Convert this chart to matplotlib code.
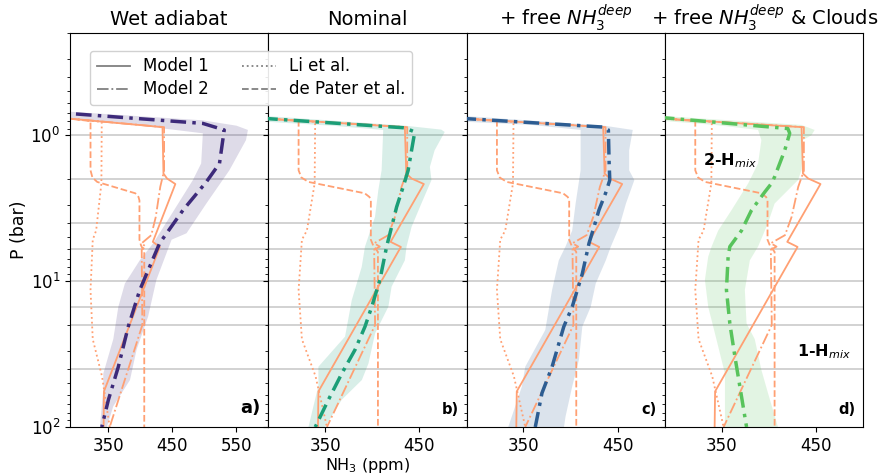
import numpy as np
import matplotlib
matplotlib.use("Agg")
import matplotlib.pyplot as plt

# reference profiles (ppm, bar), same in every panel
model1_ppm = [250, 290, 434.5, 435.6, 436, 441.6, 454.6, 419.4, 430.3, 343, 342.5]
model1_p = [0.745, 0.77, 0.88, 1.48, 1.83, 1.98, 2.16, 5.38, 5.83, 57, 100]

model2_ppm = [250, 290, 437, 437, 431, 424, 417, 402, 408, 402, 403, 352]
model2_p = [0.745, 0.77, 0.88, 1.75, 2.26, 3.63, 4.84, 5.5, 5.8, 6.1, 20, 100]

li_ppm = [250, 290, 339.5, 339.5, 339, 330.8, 325.5, 322, 325.5, 340, 352]
li_p = [0.745, 0.77, 0.81, 0.88, 2.14, 4.5, 5.2, 11.5, 25, 45, 100]

depater_ppm = [250, 290, 322, 322, 325, 332.5, 392, 397, 398.5, 398.5, 401, 406, 406]
depater_p = [0.745, 0.77, 0.80, 1.74, 1.95, 2.09, 2.5, 2.65, 2.8, 5.2, 5.7, 6.3, 100]

grid_p = [1, 2, 4, 6, 10, 15, 20, 40]

titles = ["Wet adiabat", "Nominal", r"+ free $NH_3^{deep}$",
          r"+ free $NH_3^{deep}$ & Clouds"]
panel_tags = ["a)", "b)", "c)", "d)"]
colors = ["#3d2a7a", "#1b9e77", "#2d5d92", "#58c35c"]

# retrieved profiles
ret_ppm = [
    [250, 290, 497.6, 531, 523.6, 503, 466.6, 430, 399, 381, 365.5, 350, 339.6],
    [250, 290, 434.5, 445, 441.6, 438, 432.7, 425.8, 420.5, 415.2, 408.1, 399.4,
     392.3, 381.8, 367.7, 353.6, 339.6],
    [250, 290, 435.5, 440, 440.8, 441.5, 437, 430, 424.8, 419.5, 412.4, 401.7,
     392.8, 380.4, 369.7, 362.6],
    [250, 290, 420, 422, 416.7, 406, 402.7, 395.6, 381.6, 371, 358.6, 356.8,
     355, 358.6, 364, 369.2, 376.3],
]
ret_p = [
    [0.69, 0.71, 0.83, 0.92, 1.56, 2.09, 3.26, 5.5, 11.5, 20.5, 38.6, 65, 100],
    [0.745, 0.77, 0.89, 0.95, 1.27, 1.74, 2.26, 3.1, 4.25, 5.8, 9.8, 15, 20.5,
     29.5, 43, 65, 100],
    [0.745, 0.77, 0.88, 0.92, 1.56, 2.03, 2.5, 3.26, 4.25, 5.5, 8.9, 15, 20.5,
     38.6, 58.5, 100],
    [0.74, 0.76, 0.9, 0.97, 1.27, 1.93, 2.14, 2.45, 3.26, 4.5, 5.8, 6.8, 11.5,
     19.5, 33, 52.7, 100],
]

# uncertainty envelopes: upper/right edge and lower/left edge
hi_ppm = [
    [250, 290, 497, 550, 568, 565, 539, 503, 472, 448.7, 425, 412, 394, 383.7,
     357.6, 347.5],
    [250, 290, 434.5, 473, 476.7, 466, 461, 462.7, 452, 441.6, 436.3, 434.5,
     420.5, 417, 403, 396, 389, 367.7, 350],
    [250, 290, 435.5, 465.8, 462, 462, 467.5, 458.6, 451.5, 442.6, 437.3, 426.6,
     421.3, 412.4, 408.8, 401.7, 394.6, 393],
    [250, 290, 434.4, 448.4, 445, 436, 434.4, 430.8, 406, 399, 388.5, 379.8,
     374.5, 376.3, 385, 392, 399, 409.6],
]
hi_p = [
    [0.67, 0.69, 0.79, 0.86, 0.92, 1.08, 1.74, 2.94, 4.7, 5.2, 9.8, 17.5, 29.5,
     47.6, 72, 100],
    [0.72, 0.74, 0.86, 0.915, 0.95, 1.27, 1.65, 2.03, 2.94, 4.25, 5.8, 7.2, 10.9,
     15, 22.8, 36.6, 47.6, 65, 100],
    [0.72, 0.74, 0.86, 0.92, 1.27, 1.74, 2.03, 2.94, 4.25, 5.8, 7.2, 10.4, 15,
     20.5, 34.7, 52.7, 85, 100],
    [0.72, 0.74, 0.85, 0.92, 1.0, 1.08, 1.74, 2.03, 2.94, 4.0, 5.8, 7.2, 11.5,
     19.5, 25, 40.6, 58.5, 100],
]
lo_ppm = [
    [250, 290, 400, 497.6, 495, 482, 446, 420, 399, 375.7, 365.5, 357.6, 342,
     342, 336.7],
    [250, 290, 357, 411.6, 409.9, 406.4, 402.9, 392.3, 388.8, 378.3, 371.2, 343,
     343, 336, 332.5],
    [250, 290, 359, 410.6, 410.6, 405.3, 401.7, 394.6, 387.5, 380.4, 373.2, 352,
     348.4, 334],
    [250, 290, 342.8, 388.5, 392, 388.5, 378, 360.4, 346.3, 339.3, 335.7, 332.2,
     335.7, 342.8, 353.4, 353.4],
]
lo_p = [
    [0.76, 0.78, 0.86, 0.97, 1.56, 2.03, 3.63, 5.5, 7.2, 10.4, 15, 25, 43, 55, 100],
    [0.79, 0.81, 0.86, 0.92, 1.74, 2.38, 3.63, 5.8, 8.0, 13.5, 24, 38.6, 52, 80,
     100],
    [0.79, 0.81, 0.85, 0.92, 1.74, 2.94, 4.5, 5.8, 7.2, 11.5, 21.6, 38.6, 52.7,
     100],
    [0.78, 0.80, 0.85, 0.92, 1.08, 1.56, 2.14, 3.26, 4.5, 5.8, 6.8, 9.8, 15,
     22.8, 43, 100],
]

xlims = [(290, 600), (290, 500), (290, 500), (290, 500)]
xticks = [[350, 450, 550], [350, 450], [350, 450], [350, 450]]

orange = "#ffa073"

fig, axes = plt.subplots(1, 4, figsize=(8.81, 4.75), dpi=100, sharey=True)
fig.subplots_adjust(left=0.0795, right=0.98, top=0.93, bottom=0.101, wspace=0)

for i, ax in enumerate(axes):
    for p in grid_p:
        ax.axhline(p, color="0.6", lw=1.1, alpha=0.55, zorder=0.5)

    band_x = list(hi_ppm[i]) + list(lo_ppm[i])[::-1]
    band_y = list(hi_p[i]) + list(lo_p[i])[::-1]
    ax.fill(band_x, band_y, color=colors[i], alpha=0.17, lw=0, zorder=1)

    ax.plot(model1_ppm, model1_p, color=orange, lw=1.3, ls="-", zorder=2)
    ax.plot(model2_ppm, model2_p, color=orange, lw=1.3, ls="-.", zorder=2)
    ax.plot(li_ppm, li_p, color=orange, lw=1.3, ls=":", zorder=2)
    ax.plot(depater_ppm, depater_p, color=orange, lw=1.3, ls="--", zorder=2)

    ax.plot(ret_ppm[i], ret_p[i], color=colors[i], lw=2.5, zorder=3,
            dashes=(4.5, 1.8, 1, 1.8))

    ax.set_yscale("log")
    ax.set_ylim(100, 0.2)
    ax.set_xlim(*xlims[i])
    ax.set_xticks(xticks[i])
    ax.tick_params(labelsize=12)
    ax.set_title(titles[i], fontsize=14)
    ax.text(0.96, 0.025, panel_tags[i], transform=ax.transAxes, ha="right",
            va="bottom", fontweight="bold", fontsize=13 if i == 0 else 10.5)

axes[0].set_ylabel("P (bar)", fontsize=12.5, labelpad=2)
axes[1].set_xlabel(r"NH$_3$ (ppm)", fontsize=11.5, labelpad=1)

axes[3].text(330, 1.5, r"2-H$_{mix}$", fontsize=11.5, fontweight="bold",
             va="center", ha="left")
axes[3].text(430, 30.5, r"1-H$_{mix}$", fontsize=11.5, fontweight="bold",
             va="center", ha="left")

# legend with grey handles, drawn on the figure so it spans two panels
hl = [
    plt.Line2D([], [], color="gray", lw=1.3, ls="-", label="Model 1"),
    plt.Line2D([], [], color="gray", lw=1.3, ls="-.", label="Model 2"),
    plt.Line2D([], [], color="gray", lw=1.3, ls=":", label="Li et al."),
    plt.Line2D([], [], color="gray", lw=1.3, ls="--", label="de Pater et al."),
]
fig.legend(handles=hl, ncol=2, fontsize=12, loc="upper left",
           bbox_to_anchor=(0.102, 0.893), columnspacing=2.0,
           handlelength=2.0, borderaxespad=0, framealpha=0.9,
           labelspacing=0.3)

fig.savefig("out.png", dpi=100)
